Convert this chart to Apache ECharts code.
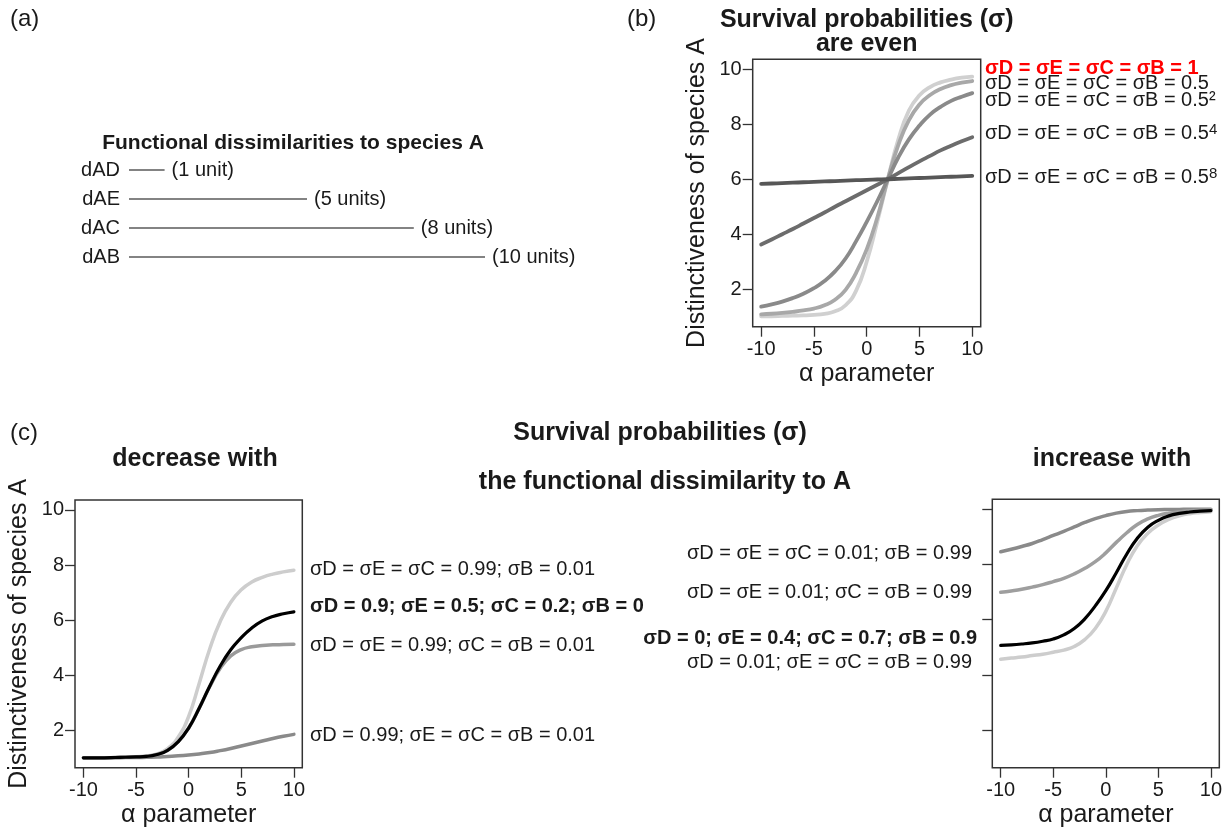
<!DOCTYPE html>
<html>
<head>
<meta charset="utf-8">
<script src="https://cdn.jsdelivr.net/npm/echarts@6/dist/echarts.min.js"></script>
<style>
html,body{margin:0;padding:0;background:#fff;}
#chart{width:1229px;height:832px;}
</style>
</head>
<body>
<div id="chart"></div>
<script>
// ---------- data ----------
const alpha = [-10,-9,-8,-7,-6,-5,-4,-3,-2,-1,0,1,2,3,4,5,6,7,8,9,10];
const xTickValues = [-10,-5,0,5,10];
const yTickValues = [2,4,6,8,10];

// (a) functional dissimilarities
const pairNames = ['dAD','dAE','dAC','dAB'];
const pairDist = [1,5,8,10];
const pairUnits = ['(1 unit)','(5 units)','(8 units)','(10 units)'];

// (b) even survival probabilities
const evenSig1    = [1.02,1.02,1.03,1.04,1.05,1.07,1.11,1.2,1.42,1.95,3.0,4.45,6.0,7.45,8.5,9.05,9.35,9.52,9.62,9.69,9.73];
const evenSig05   = [1.09,1.11,1.14,1.18,1.23,1.30,1.42,1.62,1.98,2.6,3.45,4.6,6.0,7.25,8.15,8.72,9.06,9.28,9.42,9.51,9.57];
const evenSig05p2 = [1.37,1.45,1.55,1.68,1.84,2.04,2.3,2.65,3.12,3.75,4.45,5.2,6.0,6.8,7.45,7.95,8.35,8.63,8.85,9.0,9.13];
const evenSig05p4 = [3.63,3.81,4.0,4.19,4.39,4.59,4.79,5.0,5.2,5.4,5.6,5.8,6.0,6.22,6.44,6.65,6.85,7.05,7.22,7.38,7.53];
const evenSig05p8 = [5.83,5.845,5.86,5.875,5.89,5.905,5.92,5.935,5.95,5.965,5.98,5.99,6.0,6.015,6.03,6.045,6.06,6.075,6.09,6.105,6.12];
const evenLabels = [
  'σD = σE = σC = σB = 1',
  'σD = σE = σC = σB = 0.5',
  'σD = σE = σC = σB = 0.5²',
  'σD = σE = σC = σB = 0.5{sup|4}',
  'σD = σE = σC = σB = 0.5{sup|8}'
];

// (c) left: decrease with dissimilarity
const decLight = [1.0,1.0,1.0,1.01,1.02,1.04,1.07,1.14,1.33,1.75,2.5,3.7,4.95,5.95,6.65,7.1,7.38,7.55,7.67,7.75,7.81];
const decBlack = [1.0,1.0,1.0,1.01,1.02,1.03,1.05,1.12,1.27,1.58,2.08,2.8,3.6,4.33,4.92,5.36,5.71,5.97,6.13,6.23,6.3];
const decGray  = [1.0,1.0,1.0,1.01,1.02,1.03,1.05,1.12,1.27,1.58,2.08,2.8,3.58,4.25,4.7,4.93,5.03,5.08,5.1,5.11,5.12];
const decLow   = [1.0,1.0,1.0,1.0,1.01,1.01,1.02,1.03,1.05,1.07,1.1,1.14,1.19,1.26,1.34,1.43,1.52,1.61,1.7,1.78,1.85];
const decLabels = [
  'σD = σE = σC = 0.99; σB = 0.01',
  'σD = 0.9; σE = 0.5; σC = 0.2; σB = 0',
  'σD = σE = 0.99; σC = σB = 0.01',
  'σD = 0.99; σE = σC = σB = 0.01'
];

// (c) right: increase with dissimilarity
const incTop   = [8.46,8.55,8.65,8.76,8.9,9.05,9.2,9.36,9.52,9.66,9.77,9.86,9.92,9.95,9.97,9.985,9.99,9.995,10,10,10];
const incMid   = [6.99,7.04,7.1,7.18,7.27,7.38,7.5,7.66,7.86,8.1,8.42,8.8,9.15,9.45,9.65,9.78,9.86,9.91,9.95,9.97,9.98];
const incBlack = [5.07,5.09,5.12,5.16,5.22,5.3,5.45,5.68,6.03,6.5,7.05,7.7,8.38,8.95,9.35,9.6,9.76,9.85,9.9,9.93,9.95];
const incLight = [4.57,4.61,4.65,4.7,4.75,4.82,4.9,5.03,5.28,5.68,6.3,7.15,8.0,8.68,9.13,9.43,9.63,9.76,9.84,9.88,9.91];
const incLabels = [
  'σD = σE = σC = 0.01; σB = 0.99',
  'σD = σE = 0.01; σC = σB = 0.99',
  'σD = 0; σE = 0.4; σC = 0.7; σB = 0.9',
  'σD = 0.01; σE = σC = σB = 0.99'
];

// ---------- helpers ----------
const FONT = "'Liberation Sans', Arial, Helvetica, sans-serif";
const INK = '#1a1a1a';
const pairs = vals => alpha.map((a, i) => [a, vals[i]]);

function txt(x, y, text, o) {
  o = o || {};
  const align = o.align || 'left';
  return {
    type: 'text', x: x, y: y, silent: true, z: 10,
    style: {
      text: text,
      fill: o.color || INK,
      font: (o.bold ? 'bold ' : '') + (o.size || 20) + 'px ' + FONT,
      textAlign: align, align: align,
      textVerticalAlign: 'middle', verticalAlign: 'middle',
      rich: o.rich
    }
  };
}

function gridBox(left, top, width, height) {
  return {left, top, width, height, show: true, borderColor: '#333', borderWidth: 1.5, backgroundColor: 'transparent', containLabel: false};
}

function xAxisFor(g) {
  return {
    type: 'value', gridIndex: g, min: -10.8, max: 10.8,
    name: 'α parameter', nameLocation: 'middle', nameGap: 35,
    nameTextStyle: {fontSize: 25, fontFamily: FONT, color: INK},
    axisLine: {show: false, onZero: false},
    axisTick: {show: true, length: 10, customValues: xTickValues, lineStyle: {color: '#333', width: 1.3}},
    axisLabel: {show: true, customValues: xTickValues, margin: 13, fontSize: 20, fontFamily: FONT, color: INK},
    splitLine: {show: false}
  };
}

function yAxisFor(g, withLabels) {
  return {
    type: 'value', gridIndex: g, min: 0.64, max: 10.36,
    name: withLabels ? 'Distinctiveness of species A' : '',
    nameLocation: 'middle', nameGap: 43, nameRotate: 90,
    nameTextStyle: {fontSize: 25, fontFamily: FONT, color: INK},
    axisLine: {show: false, onZero: false},
    axisTick: {show: true, length: 10, customValues: yTickValues, lineStyle: {color: '#333', width: 1.3}},
    axisLabel: {show: withLabels, customValues: yTickValues, margin: 11, fontSize: 20, fontFamily: FONT, color: INK},
    splitLine: {show: false}
  };
}

function curve(g, vals, color, width) {
  return {
    type: 'line', xAxisIndex: g, yAxisIndex: g, data: pairs(vals),
    showSymbol: false, smooth: 0.5, silent: true,
    lineStyle: {color: color, width: width || 3.8, cap: 'round', join: 'round'},
    itemStyle: {color: color}
  };
}

const supRich = {sup: {fontSize: 15, verticalAlign: 'top', fontFamily: FONT, fill: INK, padding: [0, 0, 6, 0]}};

// ---------- option ----------
const option = {
  animation: false,
  backgroundColor: '#ffffff',
  grid: [
    {left: 129, top: 155.5, width: 356, height: 116, show: false},
    gridBox(752.7, 59.3, 228, 267.4),
    gridBox(75, 500, 227.3, 267.7),
    gridBox(992.3, 499.3, 227, 268.4)
  ],
  xAxis: [
    {type: 'value', gridIndex: 0, min: 0, max: 10, show: false},
    xAxisFor(1), xAxisFor(2), xAxisFor(3)
  ],
  yAxis: [
    {type: 'category', gridIndex: 0, data: pairNames, inverse: true,
     axisLine: {show: false, onZero: false}, axisTick: {show: false},
     axisLabel: {margin: 9, fontSize: 20, fontFamily: FONT, color: INK}},
    yAxisFor(1, true), yAxisFor(2, true), yAxisFor(3, false)
  ],
  series: [
    {type: 'bar', xAxisIndex: 0, yAxisIndex: 0, data: pairDist, barWidth: 1.5, silent: true,
     itemStyle: {color: '#5a5a5a'},
     label: {show: true, position: 'right', distance: 7, fontSize: 20, fontFamily: FONT, color: INK,
             formatter: p => pairUnits[p.dataIndex]}},
    curve(1, evenSig1, '#d0d0d0'),
    curve(1, evenSig05, '#a8a8a8'),
    curve(1, evenSig05p2, '#8a8a8a'),
    curve(1, evenSig05p4, '#6c6c6c'),
    curve(1, evenSig05p8, '#575757'),
    curve(2, decLight, '#cdcdcd', 3.5),
    curve(2, decLow, '#8a8a8a', 3.5),
    curve(2, decGray, '#9a9a9a', 3.5),
    curve(2, decBlack, '#000000', 3.2),
    curve(3, incTop, '#8a8a8a', 3.5),
    curve(3, incMid, '#9e9e9e', 3.5),
    curve(3, incLight, '#cdcdcd', 3.5),
    curve(3, incBlack, '#000000', 3.2)
  ],
  graphic: [
    txt(10, 19, '(a)', {size: 24}),
    txt(627, 19, '(b)', {size: 24}),
    txt(10, 433, '(c)', {size: 24}),
    txt(293, 143, 'Functional dissimilarities to species A', {bold: true, size: 21, align: 'center'}),
    txt(866.7, 20, 'Survival probabilities (σ)', {bold: true, size: 25, align: 'center'}),
    txt(866.7, 44, 'are even', {bold: true, size: 25, align: 'center'}),
    txt(985, 68, evenLabels[0], {bold: true, color: '#ff0000'}),
    txt(985, 83, evenLabels[1]),
    txt(985, 100, evenLabels[2]),
    txt(985, 133, evenLabels[3], {rich: supRich}),
    txt(985, 177, evenLabels[4], {rich: supRich}),
    txt(660, 433, 'Survival probabilities (σ)', {bold: true, size: 25, align: 'center'}),
    txt(195, 459, 'decrease with', {bold: true, size: 25, align: 'center'}),
    txt(665, 482, 'the functional dissimilarity to A', {bold: true, size: 25, align: 'center'}),
    txt(1112, 459, 'increase with', {bold: true, size: 25, align: 'center'}),
    txt(310, 569, decLabels[0]),
    txt(310, 606, decLabels[1], {bold: true}),
    txt(310, 645, decLabels[2]),
    txt(310, 735, decLabels[3]),
    txt(972, 553, incLabels[0], {align: 'right'}),
    txt(972, 592, incLabels[1], {align: 'right'}),
    txt(977, 638, incLabels[2], {align: 'right', bold: true}),
    txt(972, 662, incLabels[3], {align: 'right'})
  ]
};

const chart = echarts.init(document.getElementById('chart'), null, {renderer: 'canvas'});
chart.setOption(option);
</script>
</body>
</html>
